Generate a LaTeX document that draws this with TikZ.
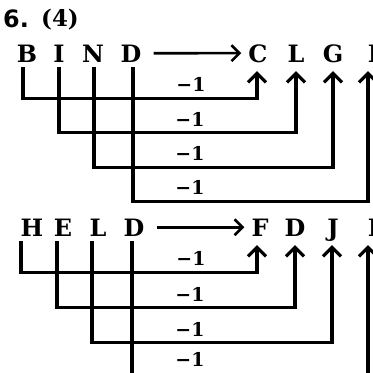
\documentclass[tikz,border=0pt]{standalone}
\usepackage{fontspec}
\newfontfamily\slabfont{DejaVu Serif}
\newfontfamily\headfont{DejaVu Sans}
\usetikzlibrary{arrows.meta, positioning, calc}

\tikzset{
	letter/.style = {anchor=base, inner sep=0pt, text depth=0pt,
		font=\fontsize{24}{26}\selectfont\slabfont\bfseries},
	minus/.style = {inner sep=0pt, font=\fontsize{19}{22}\selectfont\slabfont\bfseries},
	link/.style = {line width=3.2pt, -{Straight Barb[length=9pt,width=18pt]},
		shorten <=5pt, shorten >=9pt},
	main/.style = {line width=2.6pt, -{Straight Barb[length=8pt,width=16pt]},
		shorten <=12pt, shorten >=7pt}
}

\begin{document}
\begin{tikzpicture}[x=1bp, y=-1bp]
	\useasboundingbox (0,0) rectangle (373,373);
	\clip (0,0) rectangle (373,373);
	\node[anchor=base west, inner sep=0pt, font=\fontsize{24}{26}\selectfont\headfont\bfseries] (num) at (3,27) {6.};
	\node[anchor=base west, inner sep=0pt, font=\fontsize{23}{26}\selectfont\slabfont\bfseries] (ans) at (41,26) {(4)};
	% first word
	\node[letter] (wB) at (27,62) {B};
	\node[letter] (wI) at (59,62) {I};
	\node[letter] (wN) at (93,62) {N};
	\node[letter] (wD) at (131,62) {D};
	\node[letter] (cC) at (258,62) {C};
	\node[letter] (cL) at (296,62) {L};
	\node[letter] (cG) at (333,62) {G};
	\node[letter] (cE) at (377,62) {E};
	\draw[main] (wD.east) -- (cC.west);
	\foreach \s/\t/\d/\sx/\tx in {wB/cC/36/-4/-1, wI/cL/70/0/0, wN/cG/105/1/0, wD/cE/139/2/-9}
		\draw[link] ([xshift=\sx]\s.south) -- ++(0,\d) -| ([xshift=\tx]\t.south);
	\node[minus] (m1) at (191,84) {−1};
	\node[minus] (m2) at (190,119) {−1};
	\node[minus] (m3) at (190,153) {−1};
	\node[minus] (m4) at (190,187) {−1};
	% second word
	\node[letter] (vH) at (32,236) {H};
	\node[letter] (vE) at (63,236) {E};
	\node[letter] (vL) at (98,236) {L};
	\node[letter] (vD) at (134,236) {D};
	\node[letter] (dF) at (260,236) {F};
	\node[letter] (dD) at (295,236) {D};
	\node[letter] (dJ) at (333,236) {J};
	\node[letter] (dE) at (377,236) {E};
	\draw[main] (vD.east) -- (dF.west);
	\foreach \s/\t/\d/\sx/\tx in {vH/dF/36/-11/-3, vE/dD/71/-6/0, vL/dJ/106/-6/-1, vD/dE/140/-2/-9}
		\draw[link] ([xshift=\sx]\s.south) -- ++(0,\d) -| ([xshift=\tx]\t.south);
	\node[minus] (m5) at (191,258) {−1};
	\node[minus] (m6) at (190,294) {−1};
	\node[minus] (m7) at (190,329) {−1};
	\node[minus] (m8) at (190,359) {−1};
\end{tikzpicture}
\end{document}
